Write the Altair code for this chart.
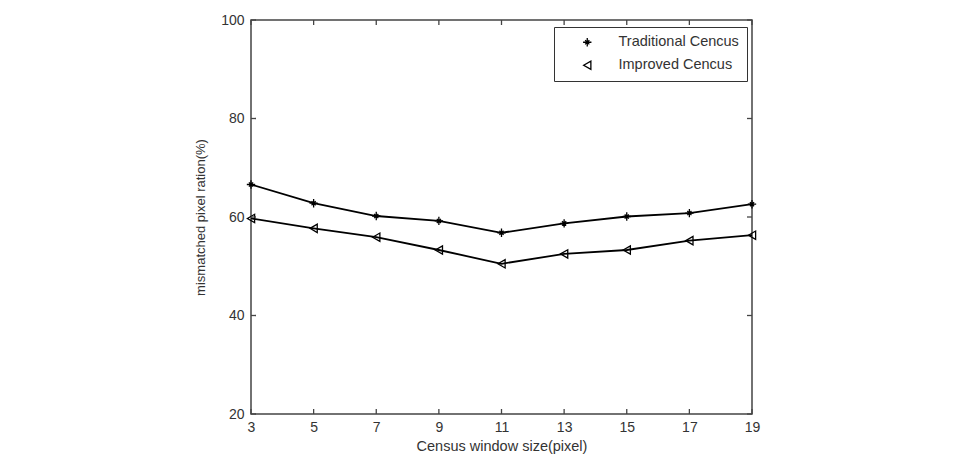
import altair as alt
import pandas as pd

window_sizes = [3, 5, 7, 9, 11, 13, 15, 17, 19]
traditional = [66.6, 62.8, 60.2, 59.2, 56.8, 58.7, 60.1, 60.8, 62.6]
improved = [59.7, 57.7, 55.9, 53.3, 50.5, 52.5, 53.3, 55.2, 56.3]
series_names = ["Traditional Cencus", "Improved Cencus"]
x_ticks = [3, 5, 7, 9, 11, 13, 15, 17, 19]
y_ticks = [20, 40, 60, 80, 100]

rows = []
for name, vals in zip(series_names, [traditional, improved]):
    for xv, yv in zip(window_sizes, vals):
        rows.append({"size": xv, "ratio": yv, "series": name})
df = pd.DataFrame(rows)
xt = pd.DataFrame({"size": x_ticks})
yt = pd.DataFrame({"ratio": y_ticks})

W, H = 501, 394
FONT = "Liberation Sans"
xscale = alt.Scale(domain=[3, 19], nice=False, zero=False)
yscale = alt.Scale(domain=[20, 100], nice=False, zero=False)
ASTERISK = "M-1,0L1,0M0,-1L0,1M-0.5,-0.5L0.5,0.5M-0.5,0.5L0.5,-0.5"

x_axis = alt.Axis(values=x_ticks, title="Census window size(pixel)", labelFlush=False,
                  labelPadding=6, titlePadding=5, titleFontSize=14.5)
y_axis = alt.Axis(values=y_ticks, title="mismatched pixel ration(%)", labelFlush=False,
                  labelPadding=7, titlePadding=13, titleFontSize=13)

X = alt.X("size:Q", scale=xscale, axis=x_axis)
Y = alt.Y("ratio:Q", scale=yscale, axis=y_axis)

base = alt.Chart(df)
lines = base.mark_line(color="black", strokeWidth=1.8).encode(
    x=X, y=Y, detail="series:N",
)
points = base.mark_point(filled=False, color="black", strokeWidth=1.3, size=70, opacity=1).encode(
    x=X, y=Y,
    shape=alt.Shape(
        "series:N",
        scale=alt.Scale(domain=series_names, range=[ASTERISK, "triangle-left"]),
        legend=alt.Legend(
            title=None, orient="none", legendX=303, legendY=7,
            fillColor="white", strokeColor="#333", padding=8,
            symbolOffset=18, labelOffset=24, symbolSize=70,
            symbolStrokeColor="black", symbolStrokeWidth=1.3, symbolFillColor="white",
            labelFont=FONT, labelFontSize=14.5, labelColor="#333", rowPadding=7,
            labelLimit=300,
        ),
    ),
)

tick_color = "#444"
x_bottom = alt.Chart(xt).mark_rule(color=tick_color, strokeWidth=1.3).encode(
    x=X, y=alt.value(H), y2=alt.value(H - 5))
x_top = alt.Chart(xt).mark_rule(color=tick_color, strokeWidth=1.3).encode(
    x=X, y=alt.value(0), y2=alt.value(5))
y_left = alt.Chart(yt).mark_rule(color=tick_color, strokeWidth=1.3).encode(
    y=Y, x=alt.value(0), x2=alt.value(5))
y_right = alt.Chart(yt).mark_rule(color=tick_color, strokeWidth=1.3).encode(
    y=Y, x=alt.value(W), x2=alt.value(W - 5))

chart = alt.layer(lines, points, x_bottom, x_top, y_left, y_right).properties(
    width=W, height=H,
    autosize=alt.AutoSizeParams(type="none"),
    padding={"left": 251, "top": 20, "right": 207, "bottom": 40},
    background="white",
).configure_view(
    stroke="#444", strokeWidth=1.5
).configure_axis(
    domain=False, ticks=False, grid=False,
    labelFont=FONT, labelFontSize=14, labelColor="#333",
    titleFont=FONT, titleFontWeight="normal", titleColor="#333",
)

chart.save("out.html", embed_options={"renderer": "svg", "actions": False})
